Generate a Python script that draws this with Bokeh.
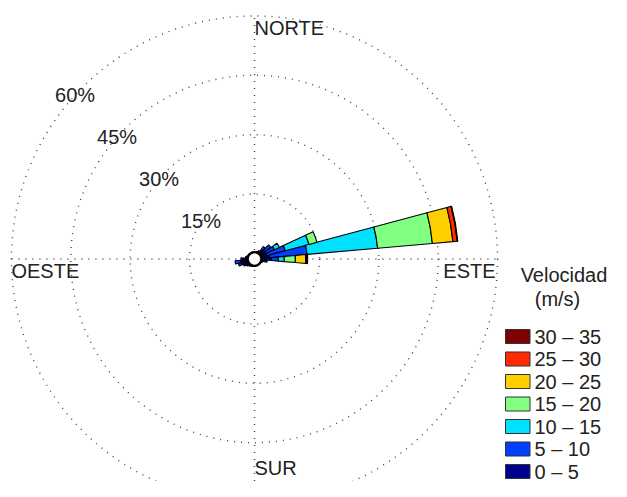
import math
from bokeh.plotting import figure
from bokeh.models import ColumnDataSource, Range1d
from bokeh.embed import file_html
from bokeh.resources import INLINE
from bokeh.core.properties import value

# ---------------- data ----------------
directions = list(range(0, 360, 10))  # compass direction (deg), sector centres

speed_labels = ["0 – 5", "5 – 10", "10 – 15", "15 – 20", "20 – 25", "25 – 30", "30 – 35"]
speed_colors = ["#00008F", "#0040FF", "#00E0FF", "#80FF80", "#FFD000", "#FF2A00", "#7F0000"]

#            0    10   20   30   40   50   60   70   80   90   100  110  120  130  140  150  160  170
freq_0_5 = [0.4, 0.4, 0.5, 0.9, 1.4, 1.6, 1.6, 1.8, 2.3, 2.9, 1.2, 0.7, 0.4, 0.3, 0.3, 0.3, 0.3, 0.3,
            0.4, 0.4, 0.5, 0.6, 0.8, 1.1, 1.4, 2.0, 2.1, 1.5, 0.9, 0.6, 0.4, 0.4, 0.3, 0.3, 0.3, 0.3]
freq_5_10 = [0, 0, 0, 0, 1.0, 2.0, 2.5, 4.8, 9.6, 1.7, 0.6, 0, 0, 0, 0, 0, 0, 0,
             0, 0, 0, 0, 0, 0, 0.3, 0.8, 1.4, 0.5, 0, 0, 0, 0, 0, 0, 0, 0]
freq_10_15 = [0, 0, 0, 0, 0, 0, 1.4, 6.2, 17.9, 1.5, 0, 0, 0, 0, 0, 0, 0, 0,
              0, 0, 0, 0, 0, 0, 0, 0, 0, 0, 0, 0, 0, 0, 0, 0, 0, 0]
freq_15_20 = [0, 0, 0, 0, 0, 0, 0, 2.1, 13.9, 2.8, 0, 0, 0, 0, 0, 0, 0, 0,
              0, 0, 0, 0, 0, 0, 0, 0, 0, 0, 0, 0, 0, 0, 0, 0, 0, 0]
freq_20_25 = [0, 0, 0, 0, 0, 0, 0, 0, 5.2, 2.6, 0, 0, 0, 0, 0, 0, 0, 0,
              0, 0, 0, 0, 0, 0, 0, 0, 0, 0, 0, 0, 0, 0, 0, 0, 0, 0]
freq_25_30 = [0, 0, 0, 0, 0, 0, 0, 0, 1.1, 0.2, 0, 0, 0, 0, 0, 0, 0, 0,
              0, 0, 0, 0, 0, 0, 0, 0, 0, 0, 0, 0, 0, 0, 0, 0, 0, 0]
freq_30_35 = [0, 0, 0, 0, 0, 0, 0, 0, 0.15, 0.3, 0, 0, 0, 0, 0, 0, 0, 0,
              0, 0, 0, 0, 0, 0, 0, 0, 0, 0, 0, 0, 0, 0, 0, 0, 0, 0]

ring_pcts = [15, 30, 45, 60]
ring_labels = ["15%", "30%", "45%", "60%"]
cardinal_labels = ["NORTE", "ESTE", "SUR", "OESTE"]
legend_title = ["Velocidad", "(m/s)"]

freqs = [freq_0_5, freq_5_10, freq_10_15, freq_15_20, freq_20_25, freq_25_30, freq_30_35]

# ---------------- geometry ----------------
K = 3.956          # screen px per percent
R0 = 1.44          # inner hole (percent units)
W, H = 611, 481
CXr, CYr = 254.0, 258.5   # centre in picture pixels

def px(X, Y):
    return ((X - CXr) / K, (CYr - Y) / K)

FONT = value("Liberation Sans")
TXT = "#222222"

p = figure(width=W, height=H, output_backend="svg", toolbar_location=None,
           x_axis_type=None, y_axis_type=None, min_border=0,
           x_range=Range1d(-CXr / K, (W - CXr) / K),
           y_range=Range1d(-(H - CYr) / K, CYr / K))
p.outline_line_color = None
p.background_fill_color = "white"

R = R0 + ring_pcts[-1]
# dotted grid
p.circle(x=[0] * len(ring_pcts), y=[0] * len(ring_pcts), radius=[R0 + v for v in ring_pcts],
         fill_color=None, line_color="#444444", line_dash="1 6", line_width=1.4)
p.segment(x0=[-R, 0], y0=[0, -R], x1=[R, 0], y1=[0, R],
          line_color="#444444", line_dash="1 6", line_width=1.4)

# wedges
cum = [0.0] * len(directions)
half = math.radians(5)
for fr, col in zip(freqs, speed_colors):
    d = dict(x=[], y=[], inner=[], outer=[], start=[], end=[])
    for i, dirn in enumerate(directions):
        v = fr[i]
        if v <= 0:
            continue
        a = math.radians(90 - dirn)
        d["x"].append(0); d["y"].append(0)
        d["inner"].append(R0 + cum[i]); d["outer"].append(R0 + cum[i] + v)
        d["start"].append(a - half); d["end"].append(a + half)
        cum[i] += v
    p.annular_wedge(x="x", y="y", inner_radius="inner", outer_radius="outer",
                    start_angle="start", end_angle="end", source=ColumnDataSource(d),
                    fill_color=col, line_color="black", line_width=1.1)

# centre hole
p.circle(x=[0], y=[0], radius=R0 + 0.3, fill_color="white", line_color="black", line_width=2.4)

# ring labels
ang = math.radians(135)
p.text(x=[(R0 + v) * math.cos(ang) for v in ring_pcts],
       y=[(R0 + v) * math.sin(ang) for v in ring_pcts],
       text=ring_labels, x_offset=-7.5, y_offset=8,
       text_align="center", text_baseline="middle",
       text_font=FONT, text_font_size="20px", text_color=TXT)

# cardinal labels
p.text(x=[0], y=[R], text=[cardinal_labels[0]], text_align="left", text_baseline="top",
       y_offset=1, text_font=FONT, text_font_size="20px", text_color=TXT)
p.text(x=[R], y=[0], text=[cardinal_labels[1]], text_align="right", text_baseline="top",
       x_offset=-2, y_offset=1, text_font=FONT, text_font_size="20px", text_color=TXT)
sx, sy = px(CXr, 478)
p.text(x=[sx], y=[sy], text=[cardinal_labels[2]], text_align="left", text_baseline="bottom",
       text_font=FONT, text_font_size="20px", text_color=TXT)
p.text(x=[-R], y=[0], text=[cardinal_labels[3]], text_align="left", text_baseline="top",
       y_offset=1, text_font=FONT, text_font_size="20px", text_color=TXT)

# legend (kept inside the 611 px wide canvas)
LX = -12
tx, ty = px(575.5 + LX, 274)
p.text(x=[tx], y=[ty], text=[legend_title[0]], text_align="center", text_baseline="middle",
       text_font=FONT, text_font_size="20px", text_color=TXT)
tx, ty = px(569 + LX, 298)
p.text(x=[tx], y=[ty], text=[legend_title[1]], text_align="center", text_baseline="middle",
       text_font=FONT, text_font_size="20px", text_color=TXT)

n = len(speed_labels)
lefts, rights, tops, bottoms, cols, lx, ly, labs = [], [], [], [], [], [], [], []
for row in range(n):
    k = n - 1 - row
    Y = 336 + 22.5 * row
    x0, y0 = px(517 + LX, Y - 7)
    x1, y1 = px(541.5 + LX, Y + 7)
    lefts.append(x0); rights.append(x1); tops.append(y0); bottoms.append(y1)
    cols.append(speed_colors[k])
    a, b = px(546 + LX, Y)
    lx.append(a); ly.append(b); labs.append(speed_labels[k])
p.quad(left=lefts, right=rights, top=tops, bottom=bottoms, fill_color=cols,
       line_color="#333333", line_width=1)
p.text(x=lx, y=ly, text=labs, text_align="left", text_baseline="middle",
       text_font=FONT, text_font_size="20px", text_color=TXT)

open("out.html", "w").write(file_html(p, INLINE))
